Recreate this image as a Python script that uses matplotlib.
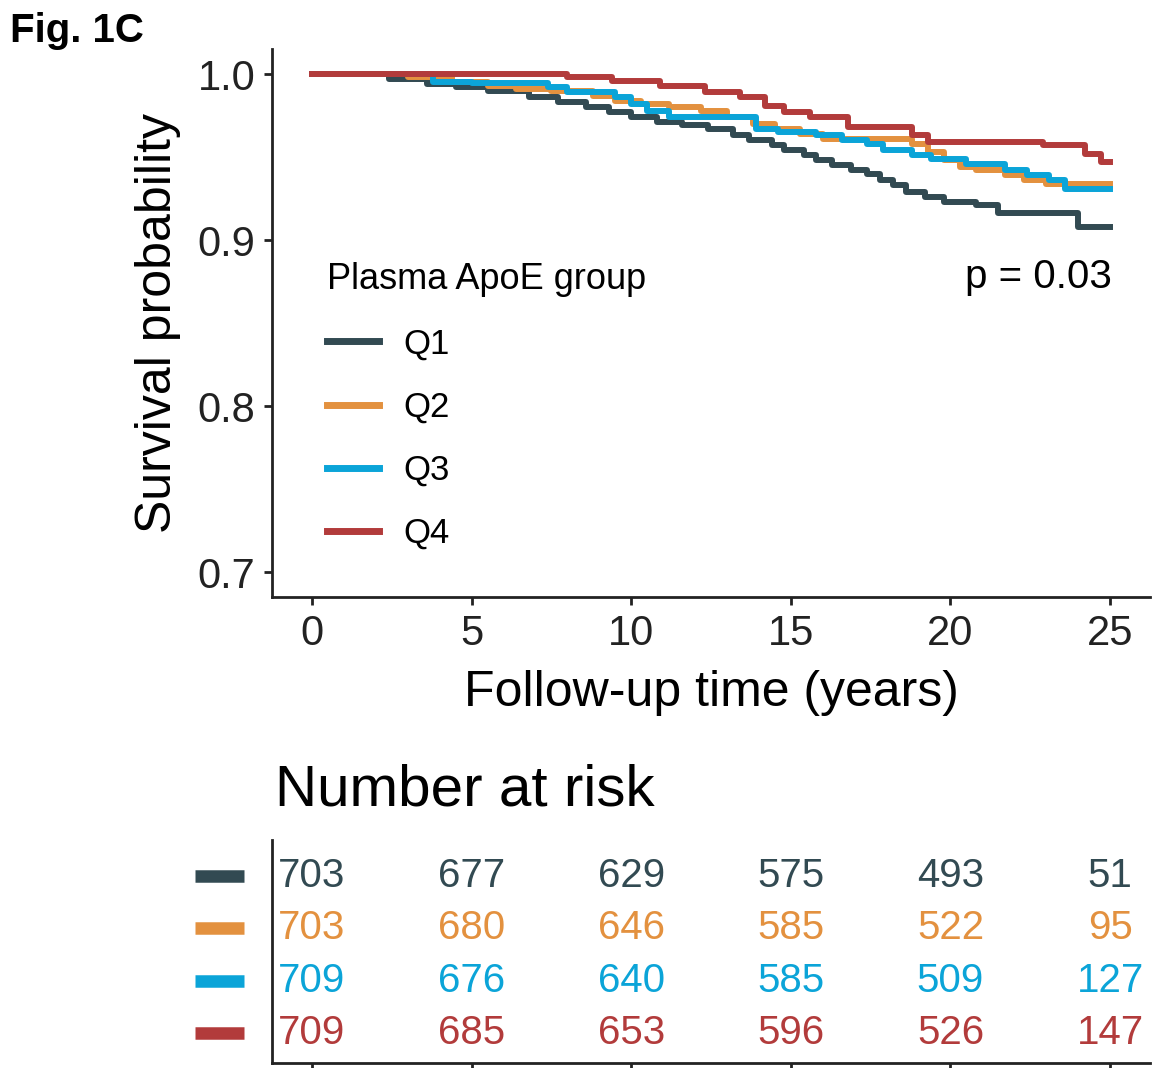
import matplotlib
matplotlib.use("Agg")
import matplotlib.pyplot as plt

plt.rcParams['font.family'] = ['Liberation Sans', 'DejaVu Sans']

# Kaplan-Meier step curves per plasma ApoE quartile
groups = ['Q1', 'Q2', 'Q3', 'Q4']
colors = ['#324A52', '#E3913F', '#0BA4D8', '#B23B3B']

q1_time = [0, 2.4, 3.6, 4.5, 5.5, 6.8, 7.7, 8.6, 9.3, 10.0, 10.8, 11.6, 12.4, 13.2, 13.7, 14.4,
           14.8, 15.4, 15.8, 16.3, 16.9, 17.4, 17.8, 18.2, 18.6, 19.2, 19.8, 20.8, 21.5, 24.0, 25.0]
q1_surv = [1.0, 0.997, 0.994, 0.992, 0.990, 0.986, 0.983, 0.980, 0.977, 0.974, 0.971, 0.969, 0.967,
           0.963, 0.960, 0.957, 0.954, 0.951, 0.948, 0.945, 0.942, 0.940, 0.936, 0.933, 0.929, 0.926,
           0.923, 0.921, 0.916, 0.908, 0.908]

q2_time = [0, 3.0, 4.4, 5.5, 6.4, 7.5, 8.8, 9.5, 10.3, 11.2, 12.2, 13.0, 13.8, 14.5, 15.3, 16.0,
           18.8, 19.3, 19.8, 20.3, 20.8, 21.7, 22.3, 23.0, 25.0]
q2_surv = [1.0, 0.998, 0.995, 0.993, 0.991, 0.990, 0.987, 0.984, 0.982, 0.980, 0.978, 0.974, 0.970,
           0.967, 0.964, 0.961, 0.958, 0.953, 0.948, 0.944, 0.942, 0.939, 0.936, 0.934, 0.934]

q3_time = [0, 3.8, 5.0, 7.4, 8.0, 9.5, 10.0, 10.5, 11.2, 13.9, 14.6, 15.8, 16.6, 17.4, 17.9, 18.8,
           19.4, 20.5, 21.7, 22.4, 23.1, 23.6, 25.0]
q3_surv = [1.0, 0.995, 0.9945, 0.992, 0.989, 0.986, 0.982, 0.978, 0.974, 0.967, 0.965, 0.963, 0.960,
           0.958, 0.954, 0.951, 0.949, 0.946, 0.942, 0.939, 0.936, 0.931, 0.931]

q4_time = [0, 8.0, 9.4, 10.9, 12.3, 13.4, 14.2, 14.8, 15.6, 16.8, 18.8, 19.3, 22.9, 24.2, 24.7, 25.0]
q4_surv = [1.0, 0.998, 0.996, 0.993, 0.989, 0.986, 0.981, 0.977, 0.974, 0.968, 0.963, 0.959, 0.957,
           0.952, 0.947, 0.947]

# number at risk table
risk_times = [0, 5, 10, 15, 20, 25]
risk_q1 = [703, 677, 629, 575, 493, 51]
risk_q2 = [703, 680, 646, 585, 522, 95]
risk_q3 = [709, 676, 640, 585, 509, 127]
risk_q4 = [709, 685, 653, 596, 526, 147]

curves = [(q1_time, q1_surv), (q2_time, q2_surv), (q3_time, q3_surv), (q4_time, q4_surv)]
risks = [risk_q1, risk_q2, risk_q3, risk_q4]

fig = plt.figure(figsize=(11.53, 10.68), dpi=100)
ax = fig.add_axes([0.2359, 0.441, 0.7615, 0.513])
rax = fig.add_axes([0.2359, 0.0047, 0.7615, 0.2088])

spine_col = '#222222'
text_col = '#222222'

for (t, s), g, c in zip(curves, groups, colors):
    ax.step(t, s, where='post', color=c, lw=4.3, label=g)

ax.set_xlim(-1.25, 26.25)
ax.set_ylim(0.685, 1.015)
ax.set_xticks(risk_times)
ax.set_yticks([0.7, 0.8, 0.9, 1.0])
ax.set_yticklabels(['0.7', '0.8', '0.9', '1.0'])
for side in ['top', 'right']:
    ax.spines[side].set_visible(False)
for side in ['left', 'bottom']:
    ax.spines[side].set_linewidth(2)
    ax.spines[side].set_color(spine_col)
ax.tick_params(axis='both', length=6, width=2, color=spine_col, labelsize=30,
               labelcolor=text_col, pad=6)
ax.set_xlabel('Follow-up time (years)', fontsize=36, color='black', labelpad=12)
ax.set_ylabel('Survival probability', fontsize=36, color='black', labelpad=12)

leg = ax.legend(title='Plasma ApoE group', loc='upper left', bbox_to_anchor=(0.027, 0.668),
                frameon=False, fontsize=25, title_fontsize=26, handlelength=1.5,
                handletextpad=0.7, labelspacing=0.87, alignment='left')
for line in leg.get_lines():
    line.set_linewidth(5)

ax.text(25.05, 0.878, 'p = 0.03', fontsize=29, ha='right', va='center', color='black')

# risk table
nrows = len(groups)
for i, (r, c) in enumerate(zip(risks, colors)):
    y = nrows - i
    for t, n in zip(risk_times, r):
        rax.text(t, y, str(n), color=c, fontsize=29, ha='center', va='center')
    rax.plot([-0.088, -0.032], [y, y], color=c, lw=9, solid_capstyle='butt',
             transform=rax.get_yaxis_transform(), clip_on=False)

rax.set_xlim(-1.25, 26.25)
rax.set_ylim(0.426, 4.69)
rax.set_xticks(risk_times)
rax.set_xticklabels([])
rax.set_yticks([])
for side in ['top', 'right']:
    rax.spines[side].set_visible(False)
for side in ['left', 'bottom']:
    rax.spines[side].set_linewidth(2)
    rax.spines[side].set_color(spine_col)
rax.tick_params(axis='x', length=6, width=2, color=spine_col)

fig.text(0.2385, 0.2595, 'Number at risk', fontsize=42, ha='left', va='center', color='black')
fig.text(0.009, 0.971, 'Fig. 1C', fontsize=29, fontweight='bold', ha='left', va='center',
         color='black')

fig.savefig('out.png', dpi=100)
